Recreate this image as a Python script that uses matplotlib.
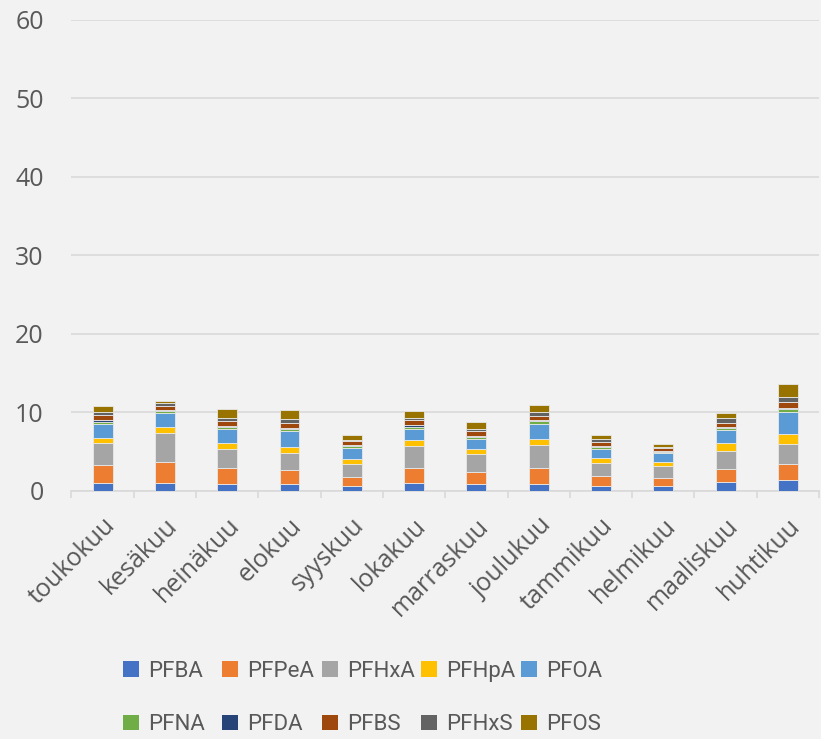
import numpy as np
import matplotlib.pyplot as plt
from matplotlib.patches import Patch

months = ['toukokuu', 'kesäkuu', 'heinäkuu', 'elokuu', 'syyskuu', 'lokakuu',
          'marraskuu', 'joulukuu', 'tammikuu', 'helmikuu', 'maaliskuu', 'huhtikuu']

PFBA = [1.00, 1.06, 0.93, 0.93, 0.64, 1.02, 0.93, 0.93, 0.68, 0.64, 1.10, 1.44]
PFPeA = [2.37, 2.63, 2.04, 1.79, 1.19, 1.95, 1.53, 2.04, 1.27, 1.06, 1.70, 2.04]
PFHxA = [2.68, 3.66, 2.42, 2.16, 1.61, 2.76, 2.25, 2.85, 1.66, 1.53, 2.30, 2.55]
PFHpA = [0.68, 0.80, 0.68, 0.72, 0.59, 0.77, 0.60, 0.80, 0.59, 0.46, 0.97, 1.27]
PFOA = [1.78, 1.83, 1.79, 2.04, 1.49, 1.44, 1.36, 1.96, 1.19, 1.15, 1.74, 2.81]
PFNA = [0.34, 0.21, 0.34, 0.26, 0.21, 0.21, 0.17, 0.29, 0.21, 0.13, 0.26, 0.34]
PFDA = [0.21, 0.09, 0.08, 0.17, 0.09, 0.22, 0.16, 0.13, 0.13, 0.13, 0.08, 0.17]
PFBS = [0.68, 0.59, 0.68, 0.63, 0.51, 0.63, 0.64, 0.51, 0.47, 0.38, 0.55, 0.68]
PFHxS = [0.38, 0.30, 0.30, 0.43, 0.21, 0.34, 0.30, 0.59, 0.38, 0.17, 0.60, 0.67]
PFOS = [0.73, 0.29, 1.19, 1.19, 0.55, 0.81, 0.89, 0.86, 0.60, 0.34, 0.59, 1.66]

series = ['PFBA', 'PFPeA', 'PFHxA', 'PFHpA', 'PFOA',
          'PFNA', 'PFDA', 'PFBS', 'PFHxS', 'PFOS']
values = [PFBA, PFPeA, PFHxA, PFHpA, PFOA, PFNA, PFDA, PFBS, PFHxS, PFOS]
colors = ['#4472C4', '#ED7D31', '#A5A5A5', '#FFC000', '#5B9BD5',
          '#70AD47', '#264478', '#9E480E', '#636363', '#997300']

plt.rcParams['font.family'] = ['Open Sans', 'DejaVu Sans']
txt = '#595959'
bg = '#F2F2F2'
fs = 18

fig = plt.figure(figsize=(8.21, 7.39), dpi=100, facecolor=bg)
ax = fig.add_axes([0.087, 0.3356, 0.9106, 0.6374], facecolor=bg)

x = np.arange(len(months))
bottom = np.zeros(len(months))
for name, vals, c in zip(series, values, colors):
    ax.bar(x, vals, 0.32, bottom=bottom, color=c, label=name,
           edgecolor='#e8e8e8', linewidth=0.6, zorder=3)
    bottom += np.array(vals)

ax.set_xlim(-0.5, len(months) - 0.5)
ax.set_ylim(0, 60)
ax.set_yticks(range(0, 61, 10))
ax.yaxis.grid(True, color='#D9D9D9', linewidth=1.2, zorder=0)
ax.tick_params(axis='y', length=0, pad=20, labelsize=fs, labelcolor=txt)

ax.set_xticks(x)
ax.set_xticklabels(months, rotation=45, ha='right', rotation_mode='anchor',
                   fontsize=fs, color=txt)
ax.set_xticks(np.arange(-0.5, len(months)), minor=True)
ax.tick_params(axis='x', which='major', length=0, pad=16)
ax.tick_params(axis='x', which='minor', length=5, color='#D9D9D9', width=1.2)

for s in ['top', 'right', 'left']:
    ax.spines[s].set_visible(False)
ax.spines['bottom'].set_color('#D9D9D9')
ax.spines['bottom'].set_linewidth(1.2)

# legend: Excel-style equal columns, one small legend per column
handles = [Patch(facecolor=c, label=n) for n, c in zip(series, colors)]
col_left = [123, 222, 322, 421, 521]
for j, xl in enumerate(col_left):
    fig.legend([handles[j], handles[j + 5]], [series[j], series[j + 5]],
               loc='center left', bbox_to_anchor=(xl / 821, 1 - 698 / 739),
               frameon=False, labelcolor=txt,
               prop={'family': 'Roboto', 'size': 16},
               handlelength=0.7, handleheight=0.7, handletextpad=0.45,
               labelspacing=1.45, borderpad=0, borderaxespad=0)

fig.savefig('out.png', dpi=100, facecolor=bg)
